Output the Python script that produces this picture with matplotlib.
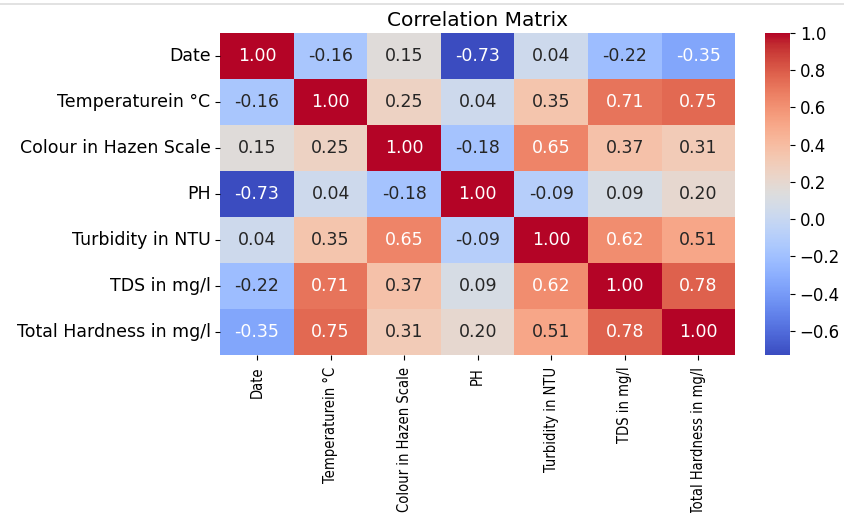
import numpy as np
import pandas as pd
import matplotlib
matplotlib.use("Agg")
import matplotlib.pyplot as plt
import seaborn as sns

labels = ["Date", "Temperaturein °C", "Colour in Hazen Scale", "PH",
          "Turbidity in NTU", "TDS in mg/l", "Total Hardness in mg/l"]

corr_values = [
    [1.00, -0.16, 0.15, -0.73, 0.04, -0.22, -0.35],
    [-0.16, 1.00, 0.25, 0.04, 0.35, 0.71, 0.75],
    [0.15, 0.25, 1.00, -0.18, 0.65, 0.37, 0.31],
    [-0.73, 0.04, -0.18, 1.00, -0.09, 0.09, 0.20],
    [0.04, 0.35, 0.65, -0.09, 1.00, 0.62, 0.51],
    [-0.22, 0.71, 0.37, 0.09, 0.62, 1.00, 0.78],
    [-0.35, 0.75, 0.31, 0.20, 0.51, 0.78, 1.00],
]

corr = pd.DataFrame(corr_values, index=labels, columns=labels)

fig = plt.figure(figsize=(8.44, 5.13), dpi=100)
ax = fig.add_axes([0.261, 0.308, 0.61, 0.628])
cax = fig.add_axes([0.906, 0.308, 0.030, 0.628])

sns.heatmap(corr, annot=True, fmt=".2f", cmap="coolwarm", ax=ax, cbar_ax=cax,
            annot_kws={"fontsize": 12.5})

ax.set_title("Correlation Matrix", fontsize=14.5, pad=5)
ax.set_yticklabels(labels, rotation=0, fontsize=12.5)
ax.set_xticklabels(labels, rotation=90, fontsize=10.5, fontstretch="condensed")
ax.tick_params(axis="x", pad=5)
cax.tick_params(labelsize=12)

# thin separator line at the top of the screenshot
fig.add_artist(plt.Line2D([0.0, 1.0], [0.992, 0.992], color="#dddddd", lw=1.2))

fig.savefig("out.png", dpi=100)
plt.close(fig)
